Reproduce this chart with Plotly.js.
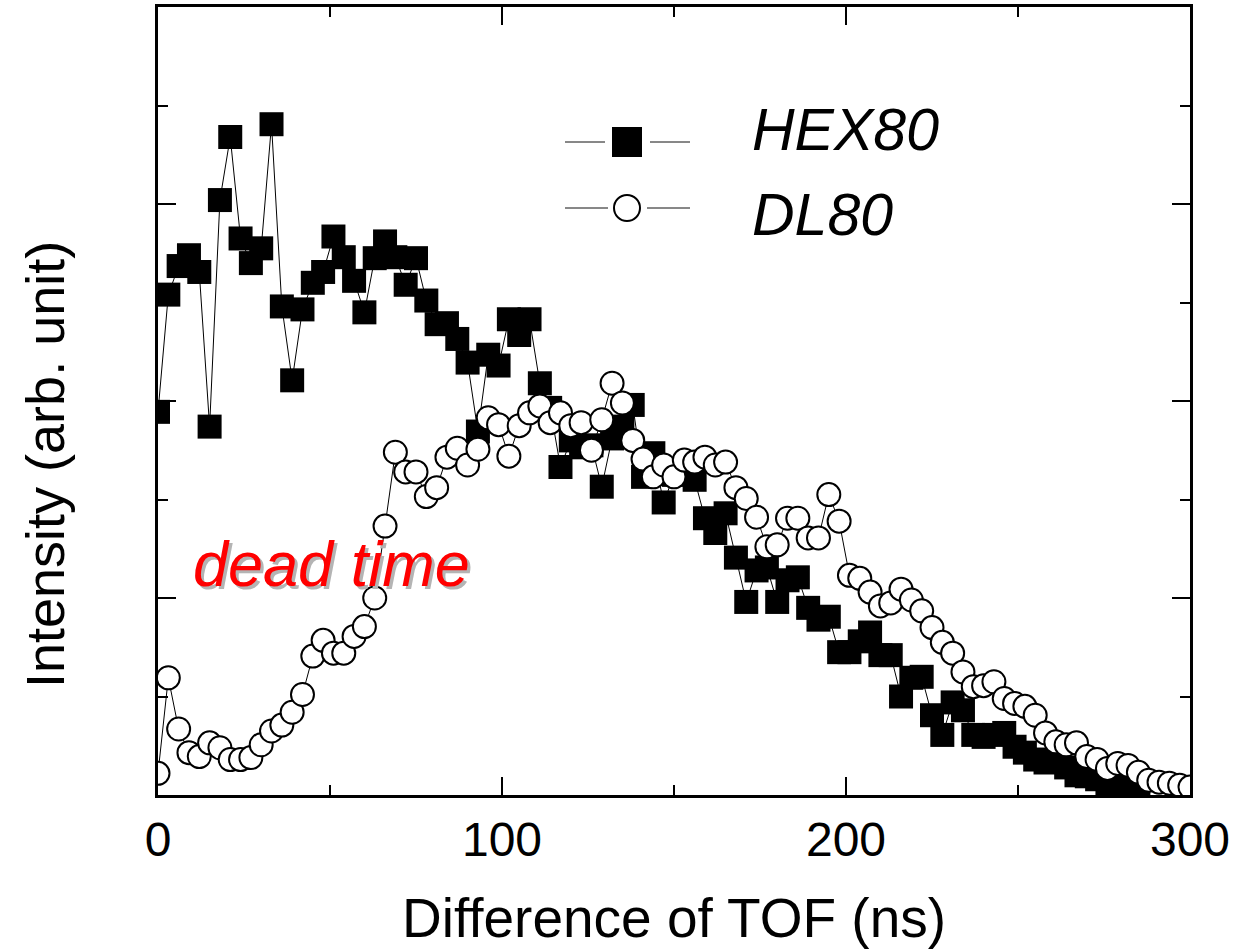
<!DOCTYPE html>
<html>
<head>
<meta charset="utf-8">
<script src="https://cdn.plot.ly/plotly-3.0.1.min.js"></script>
<style>html,body{margin:0;padding:0;background:#fff;}#chart{width:1234px;height:949px;}</style>
</head>
<body>
<div id="chart"></div>
<script>
// Difference of TOF (ns)
var tofHEX = [0,3,6,9,12,15,18,21,24,27,30,33,36,39,42,45,48,51,54,57,60,63,66,69,72,75,78,81,84,87,90,93,96,99,102,105,108,111,114,117,120,123,126,129,132,135,138,141,144,147,150,153,156,159,162,165,168,171,174,177,180,183,186,189,192,195,198,201,204,207,210,213,216,219,222,225,228,231,234,237,240,243,246,249,252,255,258,261,264,267,270,273,276,279,282,285];
var hex80 = [3.89,5.08,5.37,5.48,5.31,3.74,6.04,6.68,5.65,5.40,5.55,6.81,4.96,4.21,4.93,5.20,5.31,5.67,5.46,5.22,4.90,5.45,5.62,5.46,5.18,5.45,5.02,4.78,4.79,4.63,4.39,3.69,4.47,4.36,4.83,4.67,4.83,4.18,3.93,3.33,3.60,3.53,3.55,3.13,3.62,3.74,3.96,3.23,3.47,2.97,3.25,3.30,3.20,2.81,2.66,2.86,2.41,1.96,2.28,2.31,1.96,2.18,2.21,1.90,1.78,1.81,1.45,1.45,1.56,1.65,1.42,1.42,1.00,1.19,1.20,0.81,0.61,0.94,0.86,0.61,0.59,0.61,0.63,0.49,0.43,0.36,0.33,0.35,0.28,0.20,0.19,0.16,0.12,0.10,0.06,0.02];
var tofDL = [0,3,6,9,12,15,18,21,24,27,30,33,36,39,42,45,48,51,54,57,60,63,66,69,72,75,78,81,84,87,90,93,96,99,102,105,108,111,114,117,120,123,126,129,132,135,138,141,144,147,150,153,156,159,162,165,168,171,174,177,180,183,186,189,192,195,198,201,204,207,210,213,216,219,222,225,228,231,234,237,240,243,246,249,252,255,258,261,264,267,270,273,276,279,282,285,288,291,294,297,300];
var dl80 = [0.22,1.19,0.67,0.43,0.39,0.53,0.48,0.36,0.36,0.38,0.51,0.65,0.71,0.84,1.02,1.41,1.57,1.44,1.44,1.61,1.71,2.00,2.73,3.48,3.28,3.28,3.03,3.12,3.43,3.52,3.35,3.51,3.83,3.76,3.44,3.75,3.88,3.95,3.78,3.88,3.75,3.78,3.50,3.81,4.18,3.98,3.60,3.41,3.23,3.35,3.23,3.40,3.38,3.43,3.35,3.38,3.12,3.01,2.82,2.52,2.54,2.81,2.81,2.61,2.61,3.05,2.78,2.23,2.20,2.06,1.92,1.95,2.09,1.98,1.87,1.70,1.55,1.44,1.25,1.10,1.11,1.15,0.98,0.93,0.90,0.81,0.63,0.54,0.51,0.53,0.39,0.36,0.27,0.32,0.30,0.23,0.15,0.13,0.12,0.10,0.08];
var xTicks = [0,100,200,300];
var xTickText = ['0','100','200','300'];
var legendNames = ['HEX80','DL80'];
var noteText = 'dead time';
var xTitle = 'Difference of TOF (ns)';
var yTitle = 'Intensity (arb. unit)';

var FONT = 'Liberation Sans, Arial, Helvetica, sans-serif';

var traces = [
  {x: tofHEX, y: hex80, type: 'scatter', mode: 'lines+markers', name: legendNames[0],
   line: {color: '#000', width: 1},
   marker: {symbol: 'square', size: 24, color: '#000', line: {width: 0}}},
  {x: tofDL, y: dl80, type: 'scatter', mode: 'lines+markers', name: legendNames[1],
   line: {color: '#000', width: 1},
   marker: {symbol: 'circle', size: 23, color: '#fff', line: {color: '#000', width: 2}}}
];

function px(v){return (v-158)/1032;}
function py(v){return (795-v)/788;}

var shapes = [
  {type:'line', xref:'paper', yref:'paper', x0:px(565), x1:px(605), y0:py(142), y1:py(142), line:{color:'#111', width:1}},
  {type:'line', xref:'paper', yref:'paper', x0:px(650), x1:px(690), y0:py(142), y1:py(142), line:{color:'#111', width:1}},
  {type:'rect', xref:'paper', yref:'paper', x0:px(612), x1:px(642), y0:py(157), y1:py(127), fillcolor:'#000', line:{width:0}},
  {type:'line', xref:'paper', yref:'paper', x0:px(565), x1:px(608), y0:py(208), y1:py(208), line:{color:'#111', width:1}},
  {type:'line', xref:'paper', yref:'paper', x0:px(647), x1:px(690), y0:py(208), y1:py(208), line:{color:'#111', width:1}},
  {type:'circle', xref:'paper', yref:'paper', x0:px(614), x1:px(640), y0:py(221), y1:py(195), fillcolor:'#fff', line:{color:'#000', width:2}}
];

var annotations = [
  {xref:'paper', yref:'paper', x:px(750), y:py(130), xanchor:'left', yanchor:'middle', showarrow:false,
   text:legendNames[0], font:{family:FONT, size:59, color:'#000', style:'italic'}},
  {xref:'paper', yref:'paper', x:px(750), y:py(215), xanchor:'left', yanchor:'middle', showarrow:false,
   text:legendNames[1], font:{family:FONT, size:59, color:'#000', style:'italic'}},
  {xref:'paper', yref:'paper', x:px(191), y:py(564), xanchor:'left', yanchor:'middle', showarrow:false,
   text:noteText, font:{family:FONT, size:63, color:'#ff0000', style:'italic', shadow:'3px 3px 0px #b4b4b4'}},
  {xref:'paper', yref:'paper', x:0.5, y:py(918), xanchor:'center', yanchor:'middle', showarrow:false,
   text:xTitle, font:{family:FONT, size:55, color:'#000'}},
  {xref:'paper', yref:'paper', x:px(45), y:py(465), xanchor:'center', yanchor:'middle', showarrow:false,
   textangle:-90, text:yTitle, font:{family:FONT, size:54, color:'#000'}}
];

var layout = {
  width: 1234, height: 949,
  margin: {l: 158, r: 44, t: 7, b: 154},
  paper_bgcolor: '#fff', plot_bgcolor: '#fff',
  showlegend: false,
  font: {family: FONT, color: '#000'},
  xaxis: {
    range: [0, 300], tickvals: xTicks, ticktext: xTickText,
    ticks: 'inside', ticklen: 18, tickwidth: 2.5, tickcolor: '#000',
    minor: {tickvals: [50,150,250], ticks: 'inside', ticklen: 10, tickwidth: 2, tickcolor: '#000'},
    showline: true, linewidth: 3, linecolor: '#000', mirror: 'ticks',
    showgrid: false, zeroline: false,
    tickfont: {family: FONT, size: 48, color: '#000'},
    automargin: false
  },
  yaxis: {
    range: [0, 8], tickvals: [0,2,4,6,8],
    ticks: 'inside', ticklen: 18, tickwidth: 2.5, tickcolor: '#000',
    minor: {tickvals: [1,3,5,7], ticks: 'inside', ticklen: 10, tickwidth: 2, tickcolor: '#000'},
    showline: true, linewidth: 3, linecolor: '#000', mirror: 'ticks',
    showgrid: false, zeroline: false, showticklabels: false,
    automargin: false
  },
  shapes: shapes,
  annotations: annotations
};

Plotly.newPlot('chart', traces, layout, {displayModeBar: false, staticPlot: true});
</script>
</body>
</html>
